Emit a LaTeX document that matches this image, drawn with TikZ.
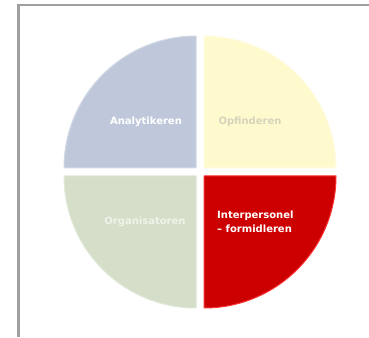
\documentclass[tikz,border=0pt]{standalone}
\usepackage{fontspec}
\setsansfont{DejaVu Sans}
\usetikzlibrary{positioning}
\definecolor{analytblue}{RGB}{191,200,218}
\definecolor{opfyellow}{RGB}{255,250,206}
\definecolor{orggreen}{RGB}{212,222,200}
\definecolor{interred}{RGB}{204,0,0}
\definecolor{edgered}{RGB}{250,50,50}
\definecolor{framegray}{RGB}{160,160,160}
\tikzset{
  quarter/.style={line width=1pt, line join=round},
  label/.style={font=\sffamily\bfseries\fontsize{10}{14}\selectfont, inner sep=0pt, align=left},
  frame/.style={draw=framegray, line width=2.8pt}
}

\begin{document}
\begin{tikzpicture}[x=1pt,y=1pt]
        \useasboundingbox (0,0) rectangle (369,337);
        % frame
        \coordinate (ftr) at (369,332); \coordinate (ftl) at (18.5,332); \coordinate (fbl) at (18.5,0);
        \draw[frame] (ftr) -- (ftl) -- (fbl);

        % quarters
        \fill[quarter, analytblue, draw=analytblue!70!white] (196,169) -- ++(-132,0) arc (180:90:132) -- cycle;
        \fill[quarter, opfyellow, draw=opfyellow!60!white] (204,169) -- ++(0,132) arc (90:0:132) -- cycle;
        \fill[quarter, orggreen, draw=orggreen!70!white] (196,161) -- ++(0,-132) arc (270:180:132) -- cycle;
        \fill[quarter, interred, draw=edgered] (204,161) -- ++(132,0) arc (0:-90:132) -- cycle;

        % labels
        \node[label, text=white] (analyt) at (146,215) {Analytikeren};
        \node[label, text={rgb,255:red,214;green,211;blue,188}] (opf) at (250,215) {Opfinderen};
        \node[label, text={rgb,255:red,240;green,243;blue,234}] (org) at (145,115) {Organisatoren};
        \node[label, text=white, anchor=west] (inter) at (217,115) {Interpersonel\\– formidleren};
    \end{tikzpicture}
\end{document}
